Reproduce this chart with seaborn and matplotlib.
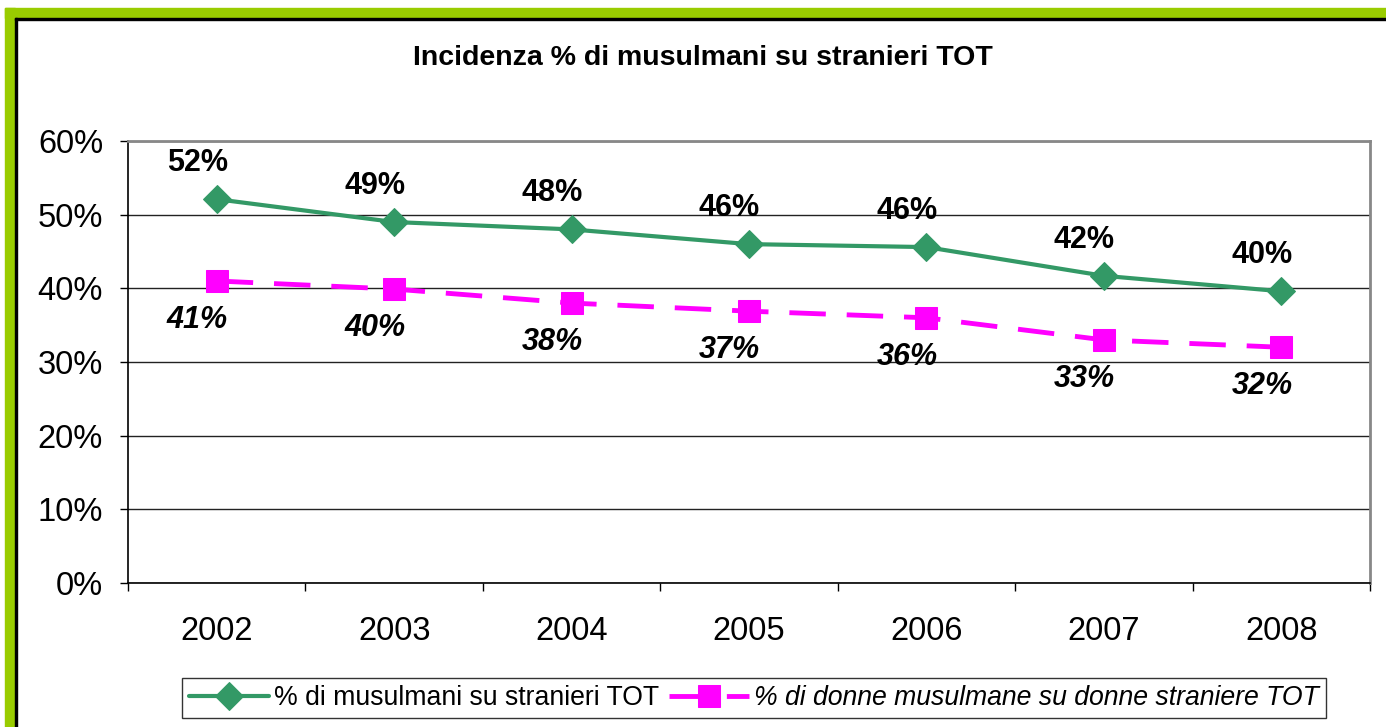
import pandas as pd
import seaborn as sns
import matplotlib.pyplot as plt
from matplotlib.patches import Rectangle
from matplotlib.ticker import FuncFormatter, FixedLocator

# data
years = ['2002', '2003', '2004', '2005', '2006', '2007', '2008']
musulmani = [52.1, 49.0, 48.0, 46.0, 45.6, 41.7, 39.6]
donne = [41.0, 39.9, 38.0, 36.9, 36.0, 33.0, 32.0]

label_tot = '% di musulmani su stranieri TOT'
label_donne = '% di donne musulmane su donne straniere TOT'
title = 'Incidenza % di musulmani su stranieri TOT'

GREEN = '#339966'
MAGENTA = '#FF00FF'

sns.set_style('white')
plt.rcParams['font.family'] = ['Liberation Sans', 'DejaVu Sans']
plt.rcParams['text.color'] = 'black'
plt.rcParams['xtick.color'] = 'black'
plt.rcParams['ytick.color'] = 'black'

df = pd.DataFrame({'pos': range(len(years)), 'year': years,
                   'tot': musulmani, 'donne': donne})

fig = plt.figure(figsize=(13.86, 7.27), dpi=100)
ax = fig.add_axes([128 / 1386, 1 - 583 / 727, (1370 - 128) / 1386, (583 - 141) / 727])

sns.lineplot(data=df, x='pos', y='tot', ax=ax, color=GREEN, linewidth=3,
             marker='D', markersize=14, markeredgecolor=GREEN, label=label_tot)
sns.lineplot(data=df, x='pos', y='donne', ax=ax, color=MAGENTA, linewidth=3.5,
             marker='s', markersize=16, markeredgecolor=MAGENTA, label=label_donne)
ax.lines[-1].set_dashes([7.5, 4.3])

# data labels
for x, v in zip(df['pos'], df['tot']):
    ax.annotate(f'{v:.0f}%', (x, v), xytext=(-14, 26), textcoords='offset points',
                ha='center', va='center', fontsize=22, fontweight='bold')
for x, v in zip(df['pos'], df['donne']):
    ax.annotate(f'{v:.0f}%', (x, v), xytext=(-14, -28), textcoords='offset points',
                ha='center', va='center', fontsize=22, fontweight='bold', fontstyle='italic')

ax.set_xlim(-0.5, len(years) - 0.5)
ax.set_ylim(0, 60)
ax.yaxis.set_major_locator(FixedLocator([0, 10, 20, 30, 40, 50, 60]))
ax.yaxis.set_major_formatter(FuncFormatter(lambda v, p: f'{v:.0f}%'))
ax.grid(axis='y', color='#222222', linewidth=1)
ax.set_axisbelow(True)

# ticks between categories, labels at centers
ax.set_xticks([i - 0.5 for i in range(len(years) + 1)])
ax.set_xticklabels([])
ax.set_xticks(list(df['pos']), minor=True)
ax.set_xticklabels(years, minor=True)
ax.tick_params(axis='x', which='major', direction='out', length=6, width=1, bottom=True)
ax.tick_params(axis='x', which='minor', length=0, pad=24, labelsize=23.5)
ax.tick_params(axis='y', direction='out', length=6, width=1, left=True, labelsize=23.5, pad=12)
ax.set_xlabel('')
ax.set_ylabel('')

for side in ['left', 'bottom']:
    ax.spines[side].set_color('black')
    ax.spines[side].set_linewidth(1.2)
ax.spines['top'].set_color('#888888')
ax.spines['top'].set_linewidth(2)
ax.spines['right'].set_color('#888888')
ax.spines['right'].set_linewidth(2)

leg = ax.legend(loc='center', bbox_to_anchor=(754 / 1386, 1 - 698 / 727),
                bbox_transform=fig.transFigure, ncol=2, fontsize=19.2,
                frameon=True, fancybox=False, edgecolor='black', handlelength=3.0,
                columnspacing=0.35, handletextpad=0.2, borderpad=0.25)
leg.get_frame().set_linewidth(1)
leg.get_texts()[1].set_fontstyle('italic')

fig.text(703 / 1386, 1 - 58 / 727, title, ha='center', va='center',
         fontsize=20.5, fontweight='bold')

# green frame around the chart area
fig.patches.append(Rectangle((5 / 1386, 0), 10 / 1386, 1 - 8 / 727,
                             transform=fig.transFigure, color='#99CC00', zorder=0))
fig.patches.append(Rectangle((5 / 1386, 1 - 18 / 727), 1 - 5 / 1386, 10 / 727,
                             transform=fig.transFigure, color='#99CC00', zorder=0))
fig.patches.append(Rectangle((15 / 1386, 0), 2 / 1386, 1 - 18 / 727,
                             transform=fig.transFigure, color='black', zorder=0))
fig.patches.append(Rectangle((15 / 1386, 1 - 20 / 727), 1, 2 / 727,
                             transform=fig.transFigure, color='black', zorder=0))

fig.savefig('out.png', dpi=100)
